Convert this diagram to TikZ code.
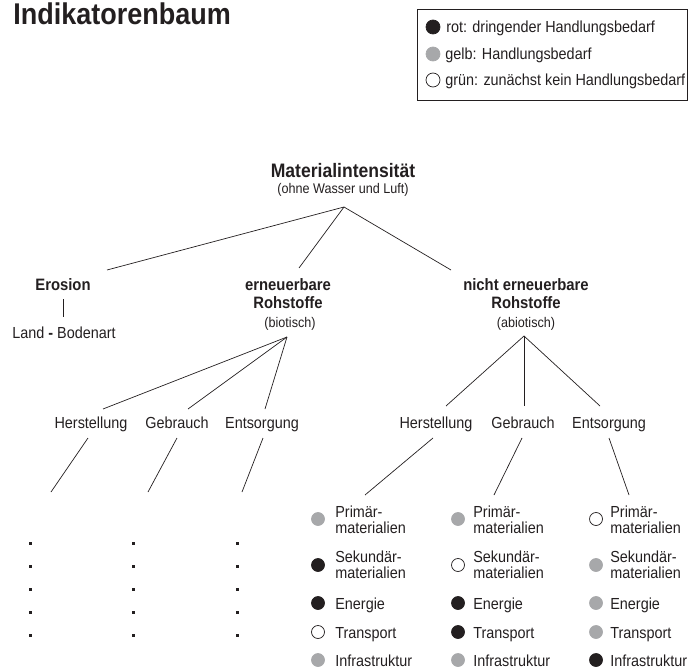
\documentclass[tikz,border=0pt]{standalone}
\usepackage{fontspec}
\setmainfont{Liberation Sans}[FakeStretch=0.9]
\definecolor{ink}{HTML}{231F20}
\definecolor{gry}{HTML}{A7A8AA}
\begin{document}
\begin{tikzpicture}[x=1pt,y=-1pt, line width=0.7pt, draw=ink,
  txt/.style={inner sep=0, text=ink, font=\fontsize{16}{16}\selectfont},
  sub/.style={inner sep=0, text=ink, font=\fontsize{14}{14}\selectfont},
  hd/.style={inner sep=0, text=ink, font=\fontsize{16.5}{16.5}\selectfont\bfseries},
  dot/.style={circle, inner sep=0, minimum size=13pt, line width=0.7pt, draw=ink},
  dred/.style={dot, fill=ink},
  dgry/.style={dot, fill=gry, draw=gry},
  dwht/.style={dot, fill=white},
  sq/.style={rectangle, inner sep=0, minimum size=3pt, fill=ink},
  edge/.style={draw=ink, line width=0.7pt}]
\useasboundingbox (0,0) rectangle (688,671);

% title
\node[inner sep=0, anchor=base west, text=ink, font=\fontsize{30}{30}\selectfont\bfseries] (title) at (13,25) {Indikatorenbaum};

% legend
\node[draw=ink, line width=0.8pt, rectangle, minimum width=270pt, minimum height=91pt, anchor=north west, inner sep=0] (legend) at (417,9) {};
\node[dred, minimum size=14pt] (l1) at (433,27) {};
\node[dgry, minimum size=14pt] (l2) at (433,54) {};
\node[dwht, minimum size=14pt] (l3) at (433,80) {};
\node[txt, anchor=base west] (lt1) at (446,33) {rot: dringender Handlungsbedarf};
\node[txt, anchor=base west] (lt2) at (445,60) {gelb: Handlungsbedarf};
\node[txt, anchor=base west] (lt3) at (445,86) {grün: zunächst kein Handlungsbedarf};

% root
\node[inner sep=0, anchor=base, text=ink, font=\fontsize{19.5}{19.5}\selectfont\bfseries] (mat) at (343,178) {Materialintensität};
\node[sub, anchor=base] (matsub) at (343,194) {(ohne Wasser und Luft)};
\coordinate (mapex) at (344,207);

% level 1
\node[hd, anchor=base] (ero) at (63,290) {Erosion};
\coordinate (erotop) at (107,270);
\coordinate (eroa) at (63,299);
\coordinate (erob) at (63,317);
\node[txt, anchor=base] (land) at (64,338) {Land {\bfseries -} Bodenart};

\node[hd, anchor=base] (ern1) at (288,290) {erneuerbare};
\node[hd, anchor=base] (ern2) at (288,308) {Rohstoffe};
\node[sub, anchor=base] (ern3) at (290,327) {(biotisch)};
\coordinate (erntop) at (299,268);
\coordinate (ernapex) at (287,337);

\node[hd, anchor=base] (nern1) at (526,290) {nicht erneuerbare};
\node[hd, anchor=base] (nern2) at (526,308) {Rohstoffe};
\node[sub, anchor=base] (nern3) at (526,327) {(abiotisch)};
\coordinate (nerntop) at (451,270);
\coordinate (nernapex) at (524,336);

\draw[edge] (mapex) -- (erotop);
\draw[edge] (mapex) -- (erntop);
\draw[edge] (mapex) -- (nerntop);
\draw[edge] (eroa) -- (erob);

% level 2 left
\node[txt, anchor=base] (lh) at (91,428) {Herstellung};
\node[txt, anchor=base] (lg) at (177,428) {Gebrauch};
\node[txt, anchor=base] (le) at (262,428) {Entsorgung};
\coordinate (lht) at (103,409);
\coordinate (lgt) at (188,409);
\coordinate (let) at (265,409);
\draw[edge] (ernapex) -- (lht);
\draw[edge] (ernapex) -- (lgt);
\draw[edge] (ernapex) -- (let);
\coordinate (lhb1) at (88,438);  \coordinate (lhb2) at (51,492);
\coordinate (lgb1) at (177,438); \coordinate (lgb2) at (148,492);
\coordinate (leb1) at (263,438); \coordinate (leb2) at (242,492);
\draw[edge] (lhb1) -- (lhb2);
\draw[edge] (lgb1) -- (lgb2);
\draw[edge] (leb1) -- (leb2);

% dots
\foreach \xx [count=\i] in {30,133,237}{
  \foreach \yy [count=\j] in {543,566,589,612,635}{
    \node[sq] (s\i\j) at (\xx,\yy) {};
  }
}

% level 2 right
\node[txt, anchor=base] (rh) at (436,428) {Herstellung};
\node[txt, anchor=base] (rg) at (523,428) {Gebrauch};
\node[txt, anchor=base] (re) at (609,428) {Entsorgung};
\coordinate (rht) at (446,406);
\coordinate (rgt) at (524,406);
\coordinate (ret) at (600,406);
\draw[edge] (nernapex) -- (rht);
\draw[edge] (nernapex) -- (rgt);
\draw[edge] (nernapex) -- (ret);
\coordinate (rhb1) at (433,438); \coordinate (rhb2) at (365,495);
\coordinate (rgb1) at (522,438); \coordinate (rgb2) at (494,495);
\coordinate (reb1) at (609,438); \coordinate (reb2) at (629,495);
\draw[edge] (rhb1) -- (rhb2);
\draw[edge] (rgb1) -- (rgb2);
\draw[edge] (reb1) -- (reb2);

% bullet lists
% column 1
\node[dgry] (a1) at (318,519) {};
\node[dred] (a2) at (318,565) {};
\node[dred] (a3) at (318,603) {};
\node[dwht] (a4) at (318,632) {};
\node[dgry] (a5) at (318,660) {};
% column 2
\node[dgry] (b1) at (458,519) {};
\node[dwht] (b2) at (458,565) {};
\node[dred] (b3) at (458,603) {};
\node[dred] (b4) at (458,632) {};
\node[dgry] (b5) at (458,660) {};
% column 3
\node[dwht] (c1) at (596,519) {};
\node[dgry] (c2) at (596,565) {};
\node[dgry] (c3) at (596,603) {};
\node[dgry] (c4) at (596,632) {};
\node[dred] (c5) at (596,660) {};

\foreach \xx/\k in {335/a,473/b,610/c}{
  \node[txt, anchor=base west] (\k t1a) at (\xx,517) {Primär-};
  \node[txt, anchor=base west] (\k t1b) at (\xx,533) {materialien};
  \node[txt, anchor=base west] (\k t2a) at (\xx,562) {Sekundär-};
  \node[txt, anchor=base west] (\k t2b) at (\xx,578) {materialien};
  \node[txt, anchor=base west] (\k t3) at (\xx,609) {Energie};
  \node[txt, anchor=base west] (\k t4) at (\xx,638) {Transport};
  \node[txt, anchor=base west] (\k t5) at (\xx,666) {Infrastruktur};
}
\end{tikzpicture}
\end{document}
